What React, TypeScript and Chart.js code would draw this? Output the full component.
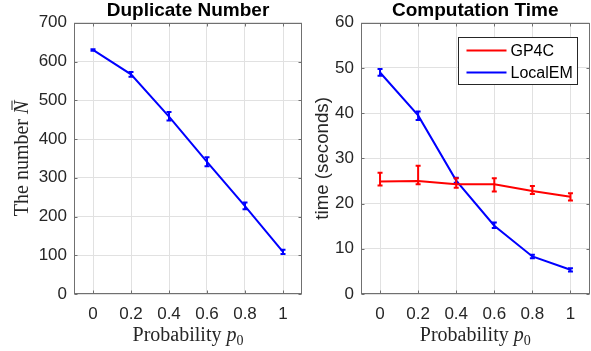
import React, { useEffect, useRef } from "react";
import { Chart, registerables } from "chart.js";

Chart.register(...registerables);

// ---------- data ----------
const probabilities = [0, 0.2, 0.4, 0.6, 0.8, 1];
const xTickLabels = ["0", "0.2", "0.4", "0.6", "0.8", "1"];

const dupTicks = [0, 100, 200, 300, 400, 500, 600, 700];
const dupMean = [630, 567, 458, 341, 227, 109];
const dupLow = [628, 561, 448, 330, 219, 103];
const dupHigh = [632, 573, 470, 353, 236, 114];

const timeTicks = [0, 10, 20, 30, 40, 50, 60];
const gpMean = [24.9, 25.0, 24.3, 24.3, 22.8, 21.5];
const gpLow = [24.0, 24.3, 23.5, 22.7, 22.1, 20.7];
const gpHigh = [26.8, 28.4, 25.6, 25.6, 23.9, 22.3];
const emMean = [49.0, 39.5, 25.1, 15.1, 8.3, 5.35];
const emLow = [48.3, 38.5, 24.6, 14.6, 7.9, 5.0];
const emHigh = [49.8, 40.4, 25.7, 15.8, 8.7, 5.7];

const leftTitle = "Duplicate Number";
const rightTitle = "Computation Time";
const seriesNames = ["GP4C", "LocalEM"];
const xLabelWord = "Probability ";
const xLabelVar = "p";
const xLabelSub = "0";
const leftYLabelWord = "The number ";
const leftYLabelVar = "N";
const rightYLabel = "time (seconds)";

// ---------- styles ----------
const SANS = "'Liberation Sans', Arial, Helvetica, sans-serif";
const SERIF = "'Liberation Serif', 'Times New Roman', serif";
const TICK_COLOR = "#262626";
const FRAME_COLOR = "#707070";
const GRID_COLOR = "#e1e1e1";
const RED = "#ff0000";
const BLUE = "#0000ff";

const pts = (ys: number[]) => probabilities.map((x, i) => ({ x, y: ys[i] }));

const framePlugin = {
  id: "frameBox",
  beforeDatasetsDraw(chart: any) {
    const { ctx, chartArea: a, scales } = chart;
    const l = Math.round(a.left) + 0.5;
    const r = Math.round(a.right) - 0.5;
    const t = Math.round(a.top) + 0.5;
    const b = Math.round(a.bottom) - 0.5;
    ctx.save();
    ctx.strokeStyle = FRAME_COLOR;
    ctx.lineWidth = 1;
    ctx.strokeRect(l, t, r - l, b - t);
    const len = 3;
    ctx.beginPath();
    scales.x.ticks.forEach((tk: any) => {
      const px = Math.round(scales.x.getPixelForValue(tk.value)) + 0.5;
      ctx.moveTo(px, b);
      ctx.lineTo(px, b - len);
      ctx.moveTo(px, t);
      ctx.lineTo(px, t + len);
    });
    scales.y.ticks.forEach((tk: any) => {
      const py = Math.round(scales.y.getPixelForValue(tk.value)) + 0.5;
      ctx.moveTo(l, py);
      ctx.lineTo(l + len, py);
      ctx.moveTo(r, py);
      ctx.lineTo(r - len, py);
    });
    ctx.stroke();
    ctx.restore();
  },
};

const errorBarPlugin = {
  id: "errorBars",
  afterDatasetDraw(chart: any, args: any) {
    const ds = chart.data.datasets[args.index];
    if (!ds.errLow || !ds.errHigh) return;
    const { ctx, scales } = chart;
    ctx.save();
    ctx.strokeStyle = ds.borderColor;
    ctx.lineWidth = 2;
    const cap = 2.5;
    ctx.beginPath();
    probabilities.forEach((xv, i) => {
      const px = scales.x.getPixelForValue(xv);
      const lo = scales.y.getPixelForValue(ds.errLow[i]);
      const hi = scales.y.getPixelForValue(ds.errHigh[i]);
      ctx.moveTo(px, lo);
      ctx.lineTo(px, hi);
      ctx.moveTo(px - cap, lo);
      ctx.lineTo(px + cap, lo);
      ctx.moveTo(px - cap, hi);
      ctx.lineTo(px + cap, hi);
    });
    ctx.stroke();
    ctx.restore();
  },
};

function drawParts(ctx: CanvasRenderingContext2D, parts: any[], cx: number, baseline: number) {
  let total = 0;
  parts.forEach((p) => {
    ctx.font = p.font;
    p.w = ctx.measureText(p.text).width;
    total += p.w;
  });
  let x = cx - total / 2;
  parts.forEach((p) => {
    ctx.font = p.font;
    ctx.fillText(p.text, x, baseline + (p.dy || 0));
    p.x = x;
    x += p.w;
  });
  return parts;
}

function drawXLabel(chart: any) {
  const { ctx, chartArea: a } = chart;
  const size = 20;
  ctx.save();
  ctx.fillStyle = TICK_COLOR;
  ctx.textAlign = "left";
  ctx.textBaseline = "alphabetic";
  drawParts(
    ctx,
    [
      { text: xLabelWord, font: `${size}px ${SERIF}` },
      { text: xLabelVar, font: `italic ${size}px ${SERIF}` },
      { text: xLabelSub, font: `${Math.round(size * 0.7)}px ${SERIF}`, dy: size * 0.22 },
    ],
    (a.left + a.right) / 2,
    a.bottom + 47
  );
  ctx.restore();
}

const leftLabelsPlugin = {
  id: "leftLabels",
  afterDraw(chart: any) {
    drawXLabel(chart);
    const { ctx, chartArea: a } = chart;
    const size = 20;
    ctx.save();
    ctx.fillStyle = TICK_COLOR;
    ctx.strokeStyle = TICK_COLOR;
    ctx.textAlign = "left";
    ctx.textBaseline = "alphabetic";
    ctx.translate(a.left - 46, (a.top + a.bottom) / 2);
    ctx.rotate(-Math.PI / 2);
    const parts = drawParts(
      ctx,
      [
        { text: leftYLabelWord, font: `${size}px ${SERIF}` },
        { text: leftYLabelVar, font: `italic ${size}px ${SERIF}` },
      ],
      0,
      0
    );
    const n = parts[1];
    ctx.lineWidth = 1;
    ctx.beginPath();
    ctx.moveTo(n.x + n.w * 0.3, -size * 0.8);
    ctx.lineTo(n.x + n.w * 1.0, -size * 0.8);
    ctx.stroke();
    ctx.restore();
  },
};

const rightLabelsPlugin = {
  id: "rightLabels",
  afterDraw(chart: any) {
    drawXLabel(chart);
    const { ctx, chartArea: a } = chart;
    ctx.save();
    ctx.fillStyle = TICK_COLOR;
    ctx.font = `18.7px ${SANS}`;
    ctx.textAlign = "center";
    ctx.textBaseline = "alphabetic";
    ctx.translate(a.left - 33, (a.top + a.bottom) / 2);
    ctx.rotate(-Math.PI / 2);
    ctx.fillText(rightYLabel, 0, 0);
    ctx.restore();

    // legend
    const x0 = Math.round(a.right - 12.5 - 119) + 0.5;
    const y0 = Math.round(a.top + 14) + 0.5;
    ctx.save();
    ctx.fillStyle = "#ffffff";
    ctx.fillRect(x0, y0, 119, 47);
    ctx.strokeStyle = TICK_COLOR;
    ctx.lineWidth = 1;
    ctx.strokeRect(x0, y0, 119, 47);
    ctx.font = `16px ${SANS}`;
    ctx.textAlign = "left";
    ctx.textBaseline = "middle";
    chart.data.datasets.forEach((ds: any, i: number) => {
      const yy = y0 + 13 + i * 22;
      ctx.strokeStyle = ds.borderColor;
      ctx.lineWidth = 2;
      ctx.beginPath();
      ctx.moveTo(x0 + 8, yy);
      ctx.lineTo(x0 + 48, yy);
      ctx.stroke();
      ctx.fillStyle = "#000000";
      ctx.fillText(ds.label, x0 + 52, yy + 1);
    });
    ctx.restore();
  },
};

function makeOptions(title: string, yTicks: number[], yWidth: number, padRight: number) {
  return {
    responsive: false,
    animation: false,
    events: [],
    layout: { padding: { left: 0, right: padRight, top: 0, bottom: 0 } },
    plugins: {
      legend: { display: false },
      tooltip: { enabled: false },
      title: {
        display: true,
        text: title,
        fullSize: false,
        color: "#000000",
        font: { family: SANS, size: 19, weight: "bold" },
        padding: { top: -1, bottom: 1 },
      },
    },
    scales: {
      x: {
        type: "linear",
        min: -0.1,
        max: 1.1,
        afterBuildTicks: (s: any) => {
          s.ticks = probabilities.map((v) => ({ value: v }));
        },
        afterFit: (s: any) => {
          s.height = 57;
        },
        grid: { color: GRID_COLOR, lineWidth: 1, drawTicks: false },
        border: { display: false },
        ticks: {
          color: TICK_COLOR,
          font: { family: SANS, size: 17 },
          padding: 10,
          maxRotation: 0,
          autoSkip: false,
          callback: (_v: any, i: number) => xTickLabels[i],
        },
      },
      y: {
        type: "linear",
        min: yTicks[0],
        max: yTicks[yTicks.length - 1],
        afterBuildTicks: (s: any) => {
          s.ticks = yTicks.map((v) => ({ value: v }));
        },
        afterFit: (s: any) => {
          s.width = yWidth;
        },
        grid: { color: GRID_COLOR, lineWidth: 1, drawTicks: false },
        border: { display: false },
        ticks: {
          color: TICK_COLOR,
          font: { family: SANS, size: 17 },
          padding: 7,
          autoSkip: false,
          callback: (_v: any, i: number) => String(yTicks[i]),
        },
      },
    },
  };
}

const lineStyle = (color: string) => ({
  borderColor: color,
  backgroundColor: color,
  borderWidth: 2,
  pointRadius: 0,
  tension: 0,
  fill: false,
});

export default function App() {
  const leftRef = useRef<HTMLCanvasElement>(null);
  const rightRef = useRef<HTMLCanvasElement>(null);

  useEffect(() => {
    const c1 = new Chart(leftRef.current as HTMLCanvasElement, {
      type: "line",
      data: {
        datasets: [
          { label: "Duplicate", data: pts(dupMean), errLow: dupLow, errHigh: dupHigh, ...lineStyle(BLUE) } as any,
        ],
      },
      options: makeOptions(leftTitle, dupTicks, 74, 2) as any,
      plugins: [framePlugin, errorBarPlugin, leftLabelsPlugin],
    });
    const c2 = new Chart(rightRef.current as HTMLCanvasElement, {
      type: "line",
      data: {
        datasets: [
          { label: seriesNames[0], data: pts(gpMean), errLow: gpLow, errHigh: gpHigh, ...lineStyle(RED) } as any,
          { label: seriesNames[1], data: pts(emMean), errLow: emLow, errHigh: emHigh, ...lineStyle(BLUE) } as any,
        ],
      },
      options: makeOptions(rightTitle, timeTicks, 57, 1.5) as any,
      plugins: [framePlugin, errorBarPlugin, rightLabelsPlugin],
    });
    return () => {
      c1.destroy();
      c2.destroy();
    };
  }, []);

  return (
    <div style={{ position: "absolute", left: 0, top: 0, width: 591, height: 351, background: "#ffffff" }}>
      <canvas
        ref={leftRef}
        width={304}
        height={351}
        style={{ position: "absolute", left: 0, top: 0, width: 304, height: 351 }}
      />
      <canvas
        ref={rightRef}
        width={287}
        height={351}
        style={{ position: "absolute", left: 304, top: 0, width: 287, height: 351 }}
      />
    </div>
  );
}
